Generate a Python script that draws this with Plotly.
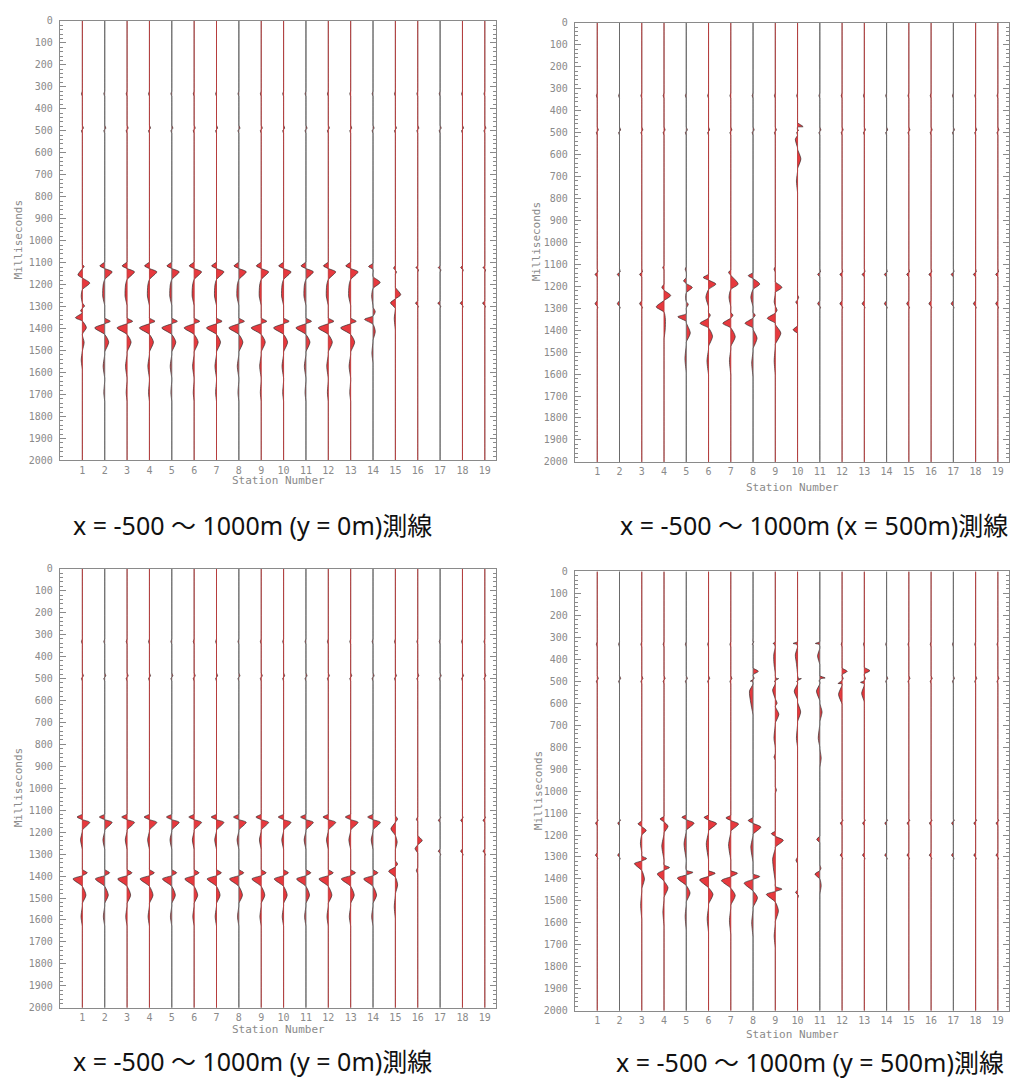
import plotly.graph_objects as go

# ---------------- data ----------------
STATIONS = list(range(1, 20))
Y_TICKS = list(range(0, 2001, 100))
CAPTIONS = ["x = -500 〜 1000m (y = 0m)測線",
            "x = -500 〜 1000m (x = 500m)測線",
            "x = -500 〜 1000m (y = 0m)測線",
            "x = -500 〜 1000m (y = 500m)測線"]
# tone of each station's trace line (r = reddish, g = grey)
LINE_TONE = ["r", "g", "r", "r", "g", "r", "r", "g", "r", "r",
             "g", "r", "r", "g", "r", "r", "g", "r", "r"]

# faint early noise common to all traces (ms, deflection in station units)
NOISE = [(320, 0), (332, -0.04), (344, 0), (475, 0), (488, 0.05), (500, -0.04), (512, 0)]

# ---- panel 1 : y = 0 m line ----
P1_QUIET = [(1113, 0), (1123, -0.08), (1133, 0.04), (1143, 0), (1273, 0), (1285, -0.1), (1298, 0.03), (1308, 0)]
P1_TYPICAL = [(1097, 0), (1115, -0.22), (1127, 0), (1142, 0.33), (1177, 0), (1202, -0.07), (1252, -0.09),
              (1302, 0), (1352, 0), (1367, 0.25), (1378, 0), (1397, -0.45), (1427, 0), (1462, 0.18),
              (1512, 0), (1572, -0.07), (1632, 0), (1692, -0.04), (1732, 0)]
P1_ST1 = [(1108, 0), (1118, 0.08), (1128, 0), (1156, -0.2), (1170, 0), (1193, 0.33), (1223, 0), (1253, -0.05),
          (1283, 0), (1298, 0.1), (1308, 0), (1320, -0.08), (1328, 0), (1351, -0.31), (1366, 0), (1396, 0.18),
          (1426, 0), (1463, 0.08), (1503, 0), (1543, -0.05), (1593, 0)]
P1_ST14 = [(1103, 0), (1118, -0.2), (1131, 0), (1163, 0), (1190, 0.32), (1218, 0), (1253, -0.06), (1303, 0),
           (1323, 0.1), (1343, 0), (1358, -0.38), (1381, 0), (1413, 0.1), (1453, 0), (1513, -0.05), (1563, 0)]
P1_ST15 = [(1113, 0), (1125, -0.08), (1135, 0), (1143, 0.05), (1153, 0), (1213, 0), (1246, 0.24), (1265, 0),
           (1283, -0.22), (1308, 0), (1353, -0.05), (1413, 0)]
P1 = {1: P1_ST1, 2: P1_TYPICAL, 3: P1_TYPICAL, 4: P1_TYPICAL, 5: P1_TYPICAL, 6: P1_TYPICAL, 7: P1_TYPICAL,
      8: P1_TYPICAL, 9: P1_TYPICAL, 10: P1_TYPICAL, 11: P1_TYPICAL, 12: P1_TYPICAL, 13: P1_TYPICAL,
      14: P1_ST14, 15: P1_ST15}

# ---- panel 2 : x = 500 m line ----
P2_QUIET = [(1120, 0), (1135, 0.03), (1145, -0.1), (1158, 0), (1265, 0), (1280, -0.1), (1295, 0.03), (1305, 0)]
P2 = {
    4: [(1105, 0), (1115, -0.06), (1125, 0), (1190, 0), (1205, -0.1), (1218, 0), (1242, 0.3), (1265, 0),
        (1294, -0.35), (1318, 0), (1350, 0.06), (1400, 0.05), (1440, 0)],
    5: [(1110, 0), (1122, -0.05), (1135, 0), (1160, 0), (1175, -0.12), (1188, 0), (1205, 0.27), (1230, 0),
        (1255, -0.03), (1270, 0), (1282, 0.09), (1300, 0), (1325, 0), (1339, -0.38), (1360, 0), (1413, 0.18),
        (1460, 0), (1530, -0.06), (1600, 0)],
    6: [(1145, 0), (1160, -0.24), (1172, 0), (1190, 0.33), (1215, 0), (1250, -0.12), (1300, 0), (1320, 0),
        (1331, 0.08), (1345, 0), (1369, -0.38), (1390, 0), (1428, 0.18), (1480, 0), (1540, -0.07), (1610, 0)],
    7: [(1125, 0), (1137, -0.1), (1150, 0), (1190, 0.33), (1215, 0), (1250, -0.08), (1300, 0), (1320, 0),
        (1331, 0.1), (1345, 0), (1369, -0.36), (1390, 0), (1430, 0.2), (1480, 0), (1540, -0.06), (1610, 0)],
    8: [(1138, 0), (1152, -0.22), (1165, 0), (1190, 0.3), (1215, 0), (1250, -0.1), (1300, 0), (1320, 0),
        (1331, 0.1), (1345, 0), (1369, -0.36), (1390, 0), (1436, 0.18), (1490, 0), (1550, -0.06), (1620, 0)],
    9: [(1110, 0), (1122, -0.06), (1135, 0), (1180, 0), (1205, 0.3), (1228, 0), (1272, -0.05), (1290, 0),
        (1309, 0.08), (1322, 0), (1346, -0.36), (1368, 0), (1413, 0.25), (1470, 0), (1540, -0.05), (1610, 0)],
    10: [(455, 0), (473, 0.25), (488, 0), (530, -0.1), (570, 0), (620, 0.15), (670, 0), (720, -0.05), (780, 0),
         (1240, 0), (1250, 0.05), (1262, 0), (1272, -0.08), (1285, 0), (1380, 0), (1398, -0.2), (1415, 0)],
}

# ---- panel 3 : y = 0 m line ----
P3_QUIET = [(1125, 0), (1135, 0.03), (1145, -0.08), (1157, 0), (1275, 0), (1287, -0.08), (1300, 0.03), (1310, 0)]
P3_TYPICAL = [(1118, 0), (1131, -0.24), (1143, 0), (1155, 0.33), (1190, 0), (1235, -0.08), (1285, 0),
              (1370, 0), (1385, 0.22), (1398, 0), (1413, -0.42), (1447, 0), (1487, 0.16), (1530, 0),
              (1585, -0.06), (1635, 0)]
P3_ST15 = [(1125, 0), (1140, 0.1), (1155, 0), (1185, -0.2), (1215, 0), (1245, 0.08), (1280, 0), (1330, 0),
           (1345, 0.1), (1358, 0), (1378, -0.3), (1405, 0), (1440, 0.1), (1480, 0), (1540, -0.05), (1600, 0)]
P3_ST16 = [(1130, 0), (1142, -0.06), (1152, 0), (1215, 0), (1238, 0.2), (1258, 0), (1275, -0.12), (1295, 0),
           (1360, 0), (1375, -0.06), (1390, 0)]
P3 = {s: P3_TYPICAL for s in range(1, 15)}
P3[15] = P3_ST15
P3[16] = P3_ST16

# ---- panel 4 : y = 500 m line ----
P4_QUIET = [(1125, 0), (1135, 0.04), (1145, -0.08), (1158, 0), (1280, 0), (1292, -0.08), (1305, 0.03), (1315, 0)]
P4 = {
    3: [(1135, 0), (1149, -0.17), (1162, 0), (1179, 0.2), (1200, 0), (1240, -0.06), (1280, 0), (1295, 0),
        (1307, 0.22), (1318, 0), (1330, -0.33), (1362, 0), (1400, 0.12), (1450, 0), (1520, -0.05), (1590, 0)],
    4: [(1115, 0), (1127, -0.18), (1140, 0), (1160, 0.18), (1190, 0), (1250, -0.1), (1320, 0), (1336, 0),
        (1348, 0.25), (1360, 0), (1377, -0.3), (1410, 0), (1440, 0.18), (1490, 0), (1550, -0.05), (1620, 0)],
    5: [(1108, 0), (1119, -0.2), (1130, 0), (1146, 0.35), (1178, 0), (1240, -0.1), (1320, 0), (1360, 0),
        (1370, 0.3), (1382, 0), (1396, -0.4), (1430, 0), (1464, 0.17), (1510, 0), (1570, -0.05), (1640, 0)],
    6: [(1108, 0), (1120, -0.2), (1132, 0), (1148, 0.36), (1180, 0), (1240, -0.1), (1320, 0), (1362, 0),
        (1374, 0.3), (1388, 0), (1404, -0.4), (1440, 0), (1470, 0.2), (1520, 0), (1580, -0.06), (1650, 0)],
    7: [(1110, 0), (1122, -0.22), (1134, 0), (1150, 0.35), (1182, 0), (1245, -0.1), (1320, 0), (1362, 0),
        (1374, 0.3), (1390, 0), (1407, -0.42), (1442, 0), (1475, 0.2), (1525, 0), (1590, -0.06), (1660, 0)],
    8: [(300, 0), (320, 0.04), (335, 0), (440, 0), (455, 0.24), (470, 0), (500, -0.12), (545, -0.16),
        (600, -0.1), (660, 0),
        (1120, 0), (1134, -0.22), (1147, 0), (1164, 0.35), (1196, 0), (1255, -0.1), (1330, 0), (1377, 0),
        (1389, 0.3), (1402, 0), (1419, -0.4), (1455, 0), (1485, 0.2), (1535, 0), (1600, -0.06), (1670, 0)],
    9: [(310, 0), (328, -0.1), (345, 0), (380, -0.07), (420, -0.06), (470, 0), (488, 0.15), (505, 0),
        (540, -0.12), (580, 0), (600, 0.08), (615, 0), (650, 0.16), (690, 0), (760, -0.06), (800, 0),
        (830, 0), (845, -0.06), (860, 0), (980, 0), (995, 0.05), (1010, 0),
        (1182, 0), (1194, -0.18), (1206, 0), (1224, 0.36), (1255, 0), (1310, -0.12), (1420, 0), (1434, 0),
        (1446, 0.3), (1457, 0), (1470, -0.4), (1505, 0), (1545, 0.14), (1600, 0), (1660, -0.05), (1720, 0)],
    10: [(310, 0), (328, -0.2), (342, 0), (380, -0.1), (420, -0.05), (475, 0), (488, 0.17), (505, 0),
         (545, -0.15), (590, 0), (640, 0.14), (690, 0), (760, -0.05), (800, 0),
         (1300, 0), (1315, -0.07), (1330, 0), (1450, 0), (1462, -0.09), (1475, 0.04), (1490, 0)],
    11: [(310, 0), (328, -0.2), (342, 0), (385, -0.1), (430, 0), (470, 0), (485, 0.24), (502, 0),
         (545, -0.15), (595, 0), (640, 0.1), (690, 0), (760, -0.07), (800, 0), (850, 0.06), (900, 0),
         (1205, 0), (1220, -0.14), (1235, 0), (1335, 0), (1352, 0.05), (1362, 0), (1378, -0.22), (1400, 0),
         (1430, 0.06), (1470, 0)],
    12: [(440, 0), (455, 0.23), (470, 0), (510, -0.18), (560, -0.16), (610, 0)] + P4_QUIET,
    13: [(437, 0), (452, 0.25), (467, 0), (505, -0.17), (555, -0.12), (600, 0)] + P4_QUIET,
}

# small marks just above the top axis (station, ms above zero)
TOP_DOTS = [
    [(1, -25), (3, -30), (4, -20), (5, -50), (6, -30), (7, -35), (8, -20), (9, -35), (10, -40), (12, -30), (13, -20)],
    [(5, -45), (6, -40), (7, -40)],
    [(1, -20), (2, -25), (4, -15), (5, -25), (6, -20), (7, -15), (8, -20), (9, -25), (10, -20), (11, -25), (12, -20)],
    [(6, -30), (7, -25), (8, -25)],
]

PANELS = [(P1, P1_QUIET), (P2, P2_QUIET), (P3, P3_QUIET), (P4, P4_QUIET)]

# ---------------- layout geometry (pixels) ----------------
W, H = 1016, 1086
BOX = [  # left, right, top, bottom
    (60, 496, 15, 459.5),
    (575, 1009, 17, 461),
    (60, 496, 569, 1013),
    (575, 1009, 571.7, 1016),
]
CAP_POS = [(252, 525), (814, 525), (252, 1067), (810, 1068)]
XT_POS = [(278, 480), (792, 487), (278, 1035), (792, 1040)]
YT_POS = [(18, 237), (536, 239), (18, 791), (538, 794)]

RED_LINE = "rgba(190,55,55,0.9)"
GREY_LINE = "rgba(105,105,105,0.9)"
FILL = "rgba(228,30,35,0.88)"
AX_COL = "#8a8a8a"
MONO = "DejaVu Sans Mono"


def guarded(pts):
    """Pin the quiet stretches so the spline stays on the baseline between events."""
    out = []
    for k, (t, a) in enumerate(pts):
        if a == 0 and k > 0 and t - pts[k - 1][0] > 40:
            out.append((t - 6, 0))
        out.append((t, a))
        if a == 0 and k < len(pts) - 1 and pts[k + 1][0] - t > 40:
            out.append((t + 6, 0))
    return out


fig = go.Figure()

for i, (pdata, quiet) in enumerate(PANELS):
    n = i + 1
    xa = "x" if n == 1 else f"x{n}"
    ya = "y" if n == 1 else f"y{n}"
    for s in STATIONS:
        pts = sorted(NOISE + pdata.get(s, quiet))
        pts = guarded([(0, 0)] + pts + [(2000, 0)])
        ts = [p[0] for p in pts]
        xs = [s + p[1] for p in pts]
        # invisible reference line for the fill
        fig.add_trace(go.Scatter(x=[s, s], y=[0, 2000], mode="lines", line=dict(width=0, color="rgba(0,0,0,0)"),
                                 xaxis=xa, yaxis=ya, showlegend=False, hoverinfo="skip"))
        fig.add_trace(go.Scatter(x=xs, y=ts, mode="lines", fill="tonextx", fillcolor=FILL,
                                 line=dict(color="rgba(45,45,45,0.85)", width=0.8, shape="spline", smoothing=0.7),
                                 xaxis=xa, yaxis=ya, showlegend=False, hoverinfo="skip"))
        tone = RED_LINE if LINE_TONE[s - 1] == "r" else GREY_LINE
        fig.add_trace(go.Scatter(x=[s, s], y=[0, 2000], mode="lines", line=dict(width=1, color=tone),
                                 xaxis=xa, yaxis=ya, showlegend=False, hoverinfo="skip"))
    dots = TOP_DOTS[i]
    fig.add_trace(go.Scatter(x=[d[0] for d in dots], y=[d[1] for d in dots], mode="markers",
                             marker=dict(size=2.5, color="rgba(200,70,70,0.6)"), cliponaxis=False,
                             xaxis=xa, yaxis=ya, showlegend=False, hoverinfo="skip"))

layout = dict(width=W, height=H, autosize=False, margin=dict(l=0, r=0, t=0, b=0),
              plot_bgcolor="white", paper_bgcolor="white", showlegend=False)
annotations = []
for i, (l, r, t, b) in enumerate(BOX):
    n = i + 1
    xk = "xaxis" if n == 1 else f"xaxis{n}"
    yk = "yaxis" if n == 1 else f"yaxis{n}"
    layout[xk] = dict(domain=[l / W, r / W], range=[0, 19.5], anchor="y" if n == 1 else f"y{n}",
                      tickmode="array", tickvals=STATIONS, ticktext=[str(s) for s in STATIONS],
                      ticks="", showgrid=False, zeroline=False, showline=True, linecolor=AX_COL,
                      linewidth=1.2, mirror=True, tickfont=dict(family=MONO, size=10, color=AX_COL))
    layout[yk] = dict(domain=[1 - b / H, 1 - t / H], range=[2000, 0], anchor="x" if n == 1 else f"x{n}",
                      tickmode="array", tickvals=Y_TICKS, ticktext=[str(v) for v in Y_TICKS],
                      ticks="inside", ticklen=6, tickcolor=AX_COL, mirror="ticks", showgrid=False,
                      zeroline=False, showline=True, linecolor=AX_COL, linewidth=1.2,
                      ticklabelstandoff=4,
                      minor=dict(dtick=20, ticks="inside", ticklen=3, tickcolor=AX_COL, showgrid=False),
                      tickfont=dict(family=MONO, size=10, color=AX_COL))
    cx, cy = CAP_POS[i]
    annotations.append(dict(text=CAPTIONS[i], x=cx / W, y=1 - cy / H, xref="paper", yref="paper",
                            showarrow=False, xanchor="center", yanchor="middle",
                            font=dict(family="Noto Sans, Noto Sans CJK JP", size=25, color="#111")))
    tx, ty = XT_POS[i]
    annotations.append(dict(text="Station Number", x=tx / W, y=1 - ty / H, xref="paper", yref="paper",
                            showarrow=False, xanchor="center", yanchor="middle",
                            font=dict(family=MONO, size=11, color=AX_COL)))
    yx, yy = YT_POS[i]
    annotations.append(dict(text="Milliseconds", x=yx / W, y=1 - yy / H, xref="paper", yref="paper",
                            showarrow=False, xanchor="center", yanchor="middle", textangle=-90,
                            font=dict(family=MONO, size=11, color=AX_COL)))
layout["annotations"] = annotations
fig.update_layout(**layout)
fig.write_html("out.html", config={"displayModeBar": False},
               post_script="document.body.style.margin='0px';")
